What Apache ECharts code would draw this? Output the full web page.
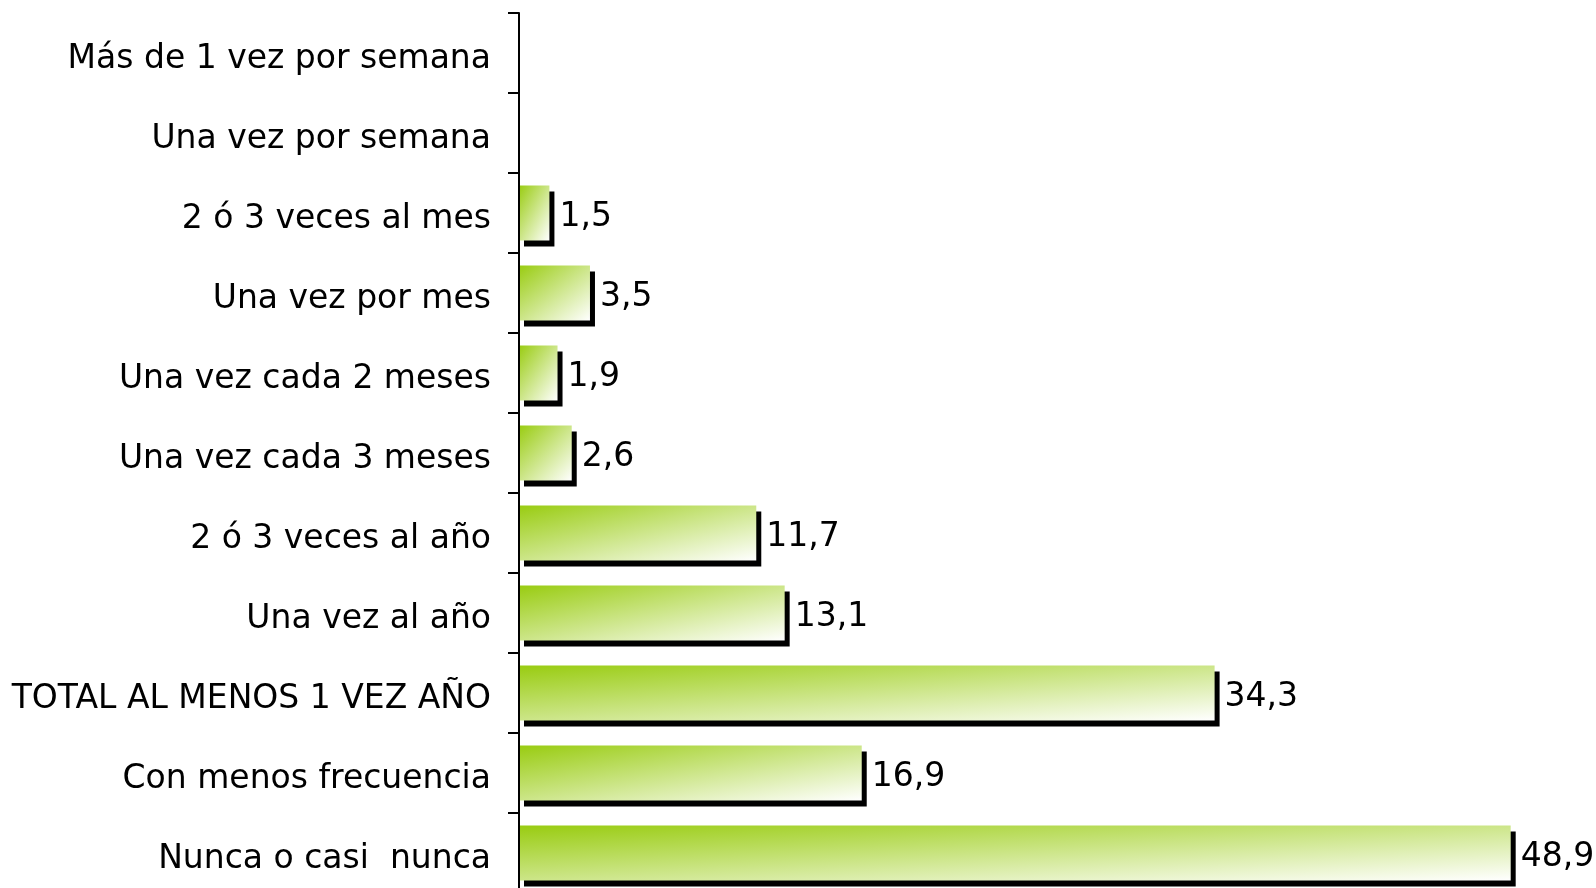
<!DOCTYPE html>
<html>
<head>
<meta charset="utf-8">
<script src="https://cdn.jsdelivr.net/npm/echarts@6/dist/echarts.min.js"></script>
<style>html,body{margin:0;padding:0;background:#fff;}#c{width:1596px;height:888px;}</style>
</head>
<body>
<div id="c"></div>
<script>
var categories = ['Más de 1 vez por semana','Una vez por semana','2 ó 3 veces al mes','Una vez por mes','Una vez cada 2 meses','Una vez cada 3 meses','2 ó 3 veces al año','Una vez al año','TOTAL AL MENOS 1 VEZ AÑO','Con menos frecuencia','Nunca o casi  nunca'];
var values = [null, null, 1.5, 3.5, 1.9, 2.6, 11.7, 13.1, 34.3, 16.9, 48.9];

var GRID_W = 1014, AX_MAX = 50, BAR_H = 55;
function grad(v){
  var w = Math.max(1, v / AX_MAX * GRID_W), h = BAR_H;
  var s = h*h + w*w;
  return new echarts.graphic.LinearGradient(0, 0, 2*h*h/s, 2*w*w/s, [
    {offset:0, color:'#99cc11'},
    {offset:1, color:'#ffffff'}
  ]);
}
var chart = echarts.init(document.getElementById('c'), null, {renderer:'canvas'});
chart.setOption({
  animation:false,
  backgroundColor:'#ffffff',
  grid:{left:519, top:13, width:GRID_W, height:880, containLabel:false, outerBoundsMode:'none'},
  xAxis:{type:'value', min:0, max:AX_MAX, show:false, splitLine:{show:false}},
  yAxis:{type:'category', data:categories, inverse:true,
    axisLine:{show:true, lineStyle:{color:'#000', width:2}},
    axisTick:{show:true, length:11, lineStyle:{color:'#000', width:2}},
    axisLabel:{margin:28, color:'#000', fontFamily:'DejaVu Sans', fontSize:33,
      formatter:function(v){ return '{a|' + v + '}'; },
      rich:{a:{fontFamily:'DejaVu Sans', fontSize:33, color:'#000', padding:[12,0,0,0]}}
    },
    z:3
  },
  series:[{
    type:'bar',
    data: values.map(function(v){ return v==null ? '-' : {value:v, itemStyle:{color:grad(v)}}; }),
    barWidth:BAR_H,
    itemStyle:{shadowColor:'#000', shadowBlur:0, shadowOffsetX:5, shadowOffsetY:6},
    label:{show:true, position:'right', distance:10, offset:[0,4], color:'#000', fontFamily:'DejaVu Sans', fontSize:33,
      formatter:function(p){ return String(p.value).replace('.', ','); }}
  }]
});
</script>
</body>
</html>
